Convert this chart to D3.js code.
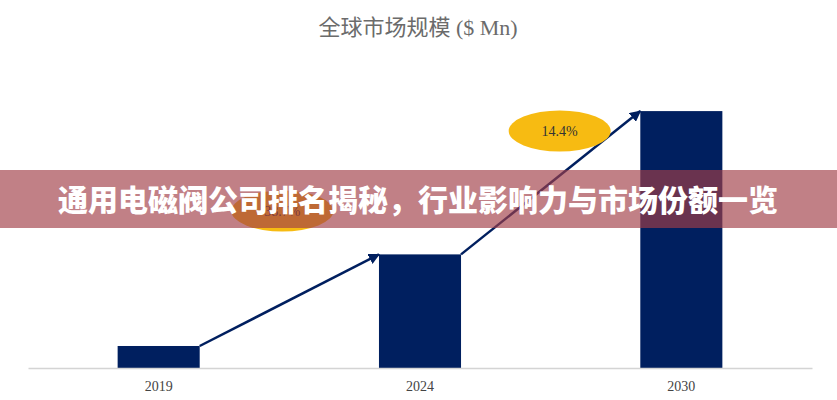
<!DOCTYPE html>
<html>
<head>
<meta charset="utf-8">
<script src="https://cdn.jsdelivr.net/npm/d3@7"></script>
<style>
  body { margin: 0; background: #fff; }
  svg { display: block; }
</style>
</head>
<body>
<svg width="837" height="400"></svg>
<script>
var years = ["2019", "2024", "2030"],
    marketSize = [215, 1110, 2510],
    cagrLabels = ["38.7%", "14.4%"],
    chartTitle = "全球市场规模 ($ Mn)",
    bannerText = "通用电磁阀公司排名揭秘，行业影响力与市场份额一览";

var svg = d3.select("svg"),
    margin = {top: 20, right: 25, bottom: 32, left: 28},
    width = +svg.attr("width") - margin.left - margin.right,
    height = +svg.attr("height") - margin.top - margin.bottom,
    g = svg.append("g").attr("transform", "translate(" + margin.left + "," + margin.top + ")");

var navy = "#001f5f";

var x = d3.scaleBand()
    .domain(years)
    .range([0, width])
    .paddingInner(0.686)
    .paddingOuter(0.343);

var y = d3.scaleLinear()
    .domain([0, 3400])
    .range([height, 0]);

svg.append("defs").append("marker")
    .attr("id", "head")
    .attr("viewBox", "0 0 10 10")
    .attr("refX", 9)
    .attr("refY", 5)
    .attr("markerWidth", 4.5)
    .attr("markerHeight", 4.5)
    .attr("orient", "auto")
  .append("path")
    .attr("d", "M0,0L10,5L0,10z")
    .attr("fill", navy);

// title
svg.append("text")
    .attr("x", 418)
    .attr("y", 35)
    .attr("text-anchor", "middle")
    .style("font-family", "'Liberation Serif', 'Noto Sans CJK SC', serif")
    .style("font-size", "22px")
    .style("fill", "#6b6b6b")
    .text(chartTitle);

// bars
g.selectAll(".bar")
    .data(marketSize)
  .enter().append("rect")
    .attr("class", "bar")
    .attr("x", function(d, i) { return x(years[i]); })
    .attr("y", function(d) { return y(d); })
    .attr("width", x.bandwidth())
    .attr("height", function(d) { return height - y(d); })
    .attr("fill", navy);

// axis
var axis = g.append("g")
    .attr("class", "axis")
    .attr("transform", "translate(0," + height + ")")
    .call(d3.axisBottom(x).tickSize(0).tickPadding(13));
axis.select(".domain").attr("stroke", "#d4d4d4").attr("stroke-width", 1.5);
axis.selectAll("text")
    .style("font-family", "'Liberation Serif', serif")
    .style("font-size", "14px")
    .style("fill", "#444");

// growth arrows between bar tops
var links = d3.range(marketSize.length - 1).map(function(i) {
  return {
    x1: x(years[i]) + x.bandwidth(), y1: y(marketSize[i]),
    x2: x(years[i + 1]), y2: y(marketSize[i + 1]),
    label: cagrLabels[i]
  };
});

g.selectAll(".arrow")
    .data(links)
  .enter().append("line")
    .attr("class", "arrow")
    .attr("x1", function(d) { return d.x1; })
    .attr("y1", function(d) { return d.y1; })
    .attr("x2", function(d) { return d.x2; })
    .attr("y2", function(d) { return d.y2; })
    .attr("stroke", navy)
    .attr("stroke-width", 2.5)
    .attr("marker-end", "url(#head)");

// CAGR bubbles
var bubble = g.selectAll(".bubble")
    .data(links)
  .enter().append("g")
    .attr("class", "bubble")
    .attr("transform", function(d, i) {
      var cx = (d.x1 + d.x2) / 2 + [-7, 9][i],
          cy = [191, 111][i];
      return "translate(" + cx + "," + cy + ")";
    });
bubble.append("ellipse")
    .attr("rx", 51)
    .attr("ry", 20.5)
    .attr("fill", "#f7bb12");
bubble.append("text")
    .attr("dy", "0.35em")
    .attr("text-anchor", "middle")
    .style("font-family", "'Liberation Serif', serif")
    .style("font-size", "14px")
    .style("fill", "#333")
    .text(function(d) { return d.label; });

// overlay banner
svg.append("rect")
    .attr("x", 0)
    .attr("y", 170)
    .attr("width", 837)
    .attr("height", 58)
    .attr("fill", "rgb(161,62,72)")
    .attr("fill-opacity", 0.66);
svg.append("text")
    .attr("x", 418)
    .attr("y", 200)
    .attr("dy", "0.36em")
    .attr("text-anchor", "middle")
    .style("font-family", "'Noto Sans CJK SC', sans-serif")
    .style("font-weight", "900")
    .style("font-size", "30px")
    .style("fill", "#fff")
    .text(bannerText);
</script>
</body>
</html>
